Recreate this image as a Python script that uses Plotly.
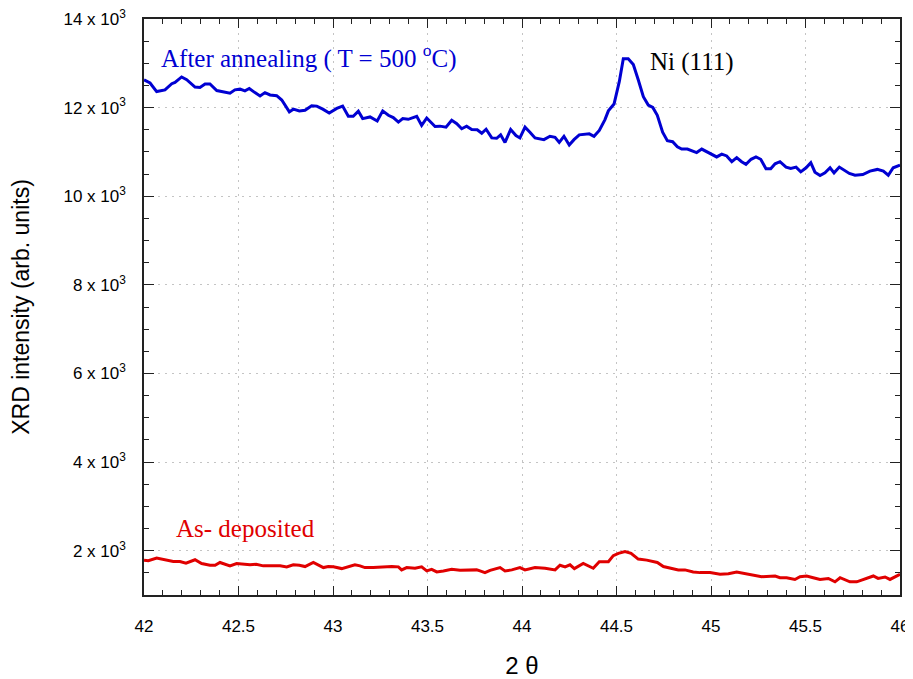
import plotly.graph_objects as go

# After annealing (T = 500 C)
annealed_2theta = [42.0, 42.032, 42.067, 42.111, 42.147, 42.164, 42.199, 42.226, 42.270, 42.296,
                   42.323, 42.349, 42.385, 42.420, 42.455, 42.481, 42.508, 42.534, 42.557, 42.587,
                   42.614, 42.640, 42.667, 42.702, 42.729, 42.769, 42.790, 42.822, 42.852, 42.887,
                   42.914, 42.946, 42.980, 43.020, 43.051, 43.081, 43.107, 43.134, 43.157, 43.196,
                   43.234, 43.263, 43.293, 43.319, 43.346, 43.369, 43.398, 43.443, 43.469, 43.496,
                   43.540, 43.566, 43.598, 43.628, 43.655, 43.681, 43.707, 43.734, 43.763, 43.787,
                   43.810, 43.840, 43.866, 43.887, 43.910, 43.940, 43.968, 43.989, 44.016, 44.042,
                   44.069, 44.116, 44.148, 44.175, 44.197, 44.222, 44.250, 44.275, 44.303, 44.356,
                   44.381, 44.409, 44.439, 44.457, 44.487, 44.515, 44.536, 44.562, 44.589, 44.615,
                   44.642, 44.668, 44.692, 44.716, 44.744, 44.769, 44.797, 44.822, 44.845, 44.875,
                   44.898, 44.924, 44.951, 44.977, 45.004, 45.030, 45.057, 45.083, 45.110, 45.136,
                   45.162, 45.185, 45.212, 45.238, 45.263, 45.291, 45.316, 45.339, 45.365, 45.397,
                   45.422, 45.450, 45.475, 45.503, 45.528, 45.550, 45.577, 45.603, 45.630, 45.651,
                   45.679, 45.704, 45.732, 45.762, 45.803, 45.841, 45.880, 45.912, 45.938, 45.964,
                   46.0]
annealed_intensity = [12630, 12555, 12362, 12401, 12539, 12569, 12692, 12630, 12463, 12454,
                      12532, 12532, 12385, 12348, 12325, 12401, 12417, 12378, 12431, 12339,
                      12264, 12339, 12286, 12270, 12172, 11903, 11965, 11926, 11942, 12041,
                      12034, 11965, 11880, 11981, 12034, 11805, 11805, 11919, 11752, 11789,
                      11697, 11926, 11828, 11775, 11674, 11752, 11736, 11805, 11598, 11766,
                      11575, 11582, 11559, 11713, 11637, 11523, 11582, 11507, 11500, 11422,
                      11513, 11316, 11307, 11385, 11215, 11507, 11369, 11316, 11559, 11445,
                      11316, 11277, 11353, 11330, 11215, 11353, 11155, 11277, 11385, 11408,
                      11353, 11484, 11729, 11926, 12080, 12592, 13105, 13105, 12975, 12630,
                      12248, 12057, 12004, 11828, 11445, 11254, 11231, 11117, 11064, 11064,
                      11025, 10986, 11064, 11002, 10949, 10887, 10949, 10910, 10779, 10871,
                      10779, 10720, 10834, 10887, 10834, 10619, 10619, 10733, 10779, 10658,
                      10628, 10658, 10550, 10642, 10756, 10543, 10467, 10527, 10642, 10527,
                      10658, 10582, 10513, 10474, 10490, 10566, 10605, 10566, 10474, 10642,
                      10704]

# As-deposited
deposited_2theta = [42.0, 42.023, 42.067, 42.111, 42.155, 42.190, 42.222, 42.270, 42.305, 42.349,
                    42.376, 42.402, 42.429, 42.455, 42.490, 42.534, 42.561, 42.593, 42.631, 42.684,
                    42.720, 42.755, 42.790, 42.822, 42.852, 42.896, 42.917, 42.949, 42.975, 43.002,
                    43.046, 43.081, 43.116, 43.143, 43.169, 43.213, 43.266, 43.311, 43.346, 43.363,
                    43.390, 43.434, 43.469, 43.496, 43.522, 43.549, 43.584, 43.628, 43.672, 43.716,
                    43.760, 43.778, 43.804, 43.831, 43.857, 43.884, 43.910, 43.946, 43.989, 44.016,
                    44.069, 44.122, 44.175, 44.201, 44.228, 44.254, 44.277, 44.324, 44.377, 44.409,
                    44.457, 44.483, 44.510, 44.545, 44.577, 44.615, 44.660, 44.695, 44.716, 44.748,
                    44.792, 44.827, 44.862, 44.906, 44.942, 44.995, 45.048, 45.092, 45.136, 45.180,
                    45.224, 45.268, 45.339, 45.365, 45.400, 45.444, 45.471, 45.506, 45.541, 45.577,
                    45.621, 45.656, 45.683, 45.709, 45.735, 45.771, 45.806, 45.859, 45.884, 45.921,
                    45.947, 45.974, 46.0]
deposited_intensity = [1787, 1773, 1833, 1787, 1757, 1757, 1718, 1796, 1711, 1672,
                       1672, 1734, 1695, 1658, 1711, 1695, 1681, 1695, 1658, 1658,
                       1658, 1635, 1681, 1672, 1642, 1734, 1681, 1619, 1642, 1635,
                       1596, 1635, 1681, 1658, 1619, 1619, 1635, 1642, 1635, 1567,
                       1619, 1603, 1635, 1544, 1580, 1521, 1544, 1580, 1557, 1567,
                       1567, 1544, 1505, 1557, 1580, 1619, 1544, 1567, 1619, 1567,
                       1619, 1603, 1567, 1672, 1635, 1681, 1596, 1711, 1603, 1750,
                       1750, 1888, 1941, 1980, 1941, 1810, 1787, 1750, 1734, 1642,
                       1603, 1567, 1567, 1521, 1505, 1505, 1466, 1482, 1521, 1489,
                       1443, 1413, 1429, 1390, 1390, 1351, 1413, 1429, 1390, 1351,
                       1374, 1298, 1390, 1351, 1298, 1298, 1351, 1429, 1374, 1406,
                       1351, 1413, 1466]

x_ticks = [42, 42.5, 43, 43.5, 44, 44.5, 45, 45.5, 46]
x_ticktext = ["42", "42.5", "43", "43.5", "44", "44.5", "45", "45.5", "46"]
y_ticks = [2000, 4000, 6000, 8000, 10000, 12000, 14000]
y_ticktext = ["2 x 10<sup>3</sup>", "4 x 10<sup>3</sup>", "6 x 10<sup>3</sup>",
              "8 x 10<sup>3</sup>", "10 x 10<sup>3</sup>", "12 x 10<sup>3</sup>",
              "14 x 10<sup>3</sup>"]

BLUE = "#0000d2"
RED = "#e00000"
SANS = "Liberation Sans, Arial, sans-serif"
SERIF = "Liberation Serif, Times New Roman, serif"
GRID = "#c4c4c4"
AX = "#222222"

fig = go.Figure()
fig.add_trace(go.Scatter(x=annealed_2theta, y=annealed_intensity, mode="lines",
                         line=dict(color=BLUE, width=3), showlegend=False))
fig.add_trace(go.Scatter(x=deposited_2theta, y=deposited_intensity, mode="lines",
                         line=dict(color=RED, width=3), showlegend=False))

fig.add_annotation(x=42.08, y=13150, xref="x", yref="y", xanchor="left", yanchor="middle",
                   text="After annealing ( T = 500 <sup>o</sup>C)", showarrow=False,
                   font=dict(family=SERIF, size=25, color=BLUE))
fig.add_annotation(x=44.667, y=13020, xref="x", yref="y", xanchor="left", yanchor="middle",
                   text="Ni (111)", showarrow=False,
                   font=dict(family=SERIF, size=25, color="black"))
fig.add_annotation(x=42.16, y=2491, xref="x", yref="y", xanchor="left", yanchor="middle",
                   text="As- deposited", showarrow=False,
                   font=dict(family=SERIF, size=25, color=RED))

fig.update_xaxes(range=[42, 46], tickvals=x_ticks, ticktext=x_ticktext,
                 ticks="inside", ticklen=9, tickwidth=1, tickcolor=AX,
                 minor=dict(dtick=0.1, ticks="inside", ticklen=5, tickcolor=AX, showgrid=False),
                 showline=True, linecolor=AX, linewidth=1.5, mirror="allticks",
                 showgrid=True, gridcolor=GRID, griddash="2px,5px", gridwidth=1,
                 zeroline=False, ticklabelstandoff=15, automargin=False,
                 ticklabeloverflow="allow",
                 tickfont=dict(family=SANS, size=17, color="black"),
                 title=dict(text="2 θ", font=dict(family=SANS, size=24, color="black"), standoff=31))
fig.update_yaxes(range=[1000, 14000], tickvals=y_ticks, ticktext=y_ticktext,
                 ticks="inside", ticklen=10, tickwidth=1, tickcolor=AX,
                 minor=dict(dtick=500, ticks="inside", ticklen=5, tickcolor=AX, showgrid=False),
                 showline=True, linecolor=AX, linewidth=1.5, mirror="allticks",
                 showgrid=True, gridcolor=GRID, griddash="2px,5px", gridwidth=1,
                 zeroline=False, ticklabelstandoff=13, automargin=False,
                 ticklabeloverflow="allow",
                 tickfont=dict(family=SANS, size=17, color="black"),
                 title=dict(text="XRD intensity (arb. units)", font=dict(family=SANS, size=23, color="black"),
                            standoff=27))

# the page body adds an 8px offset, so the figure is sized to end at the window edge
fig.update_layout(width=905, height=671, margin=dict(l=136, r=13, t=11, b=84),
                  plot_bgcolor="white", paper_bgcolor="white")

fig.write_html("out.html")
